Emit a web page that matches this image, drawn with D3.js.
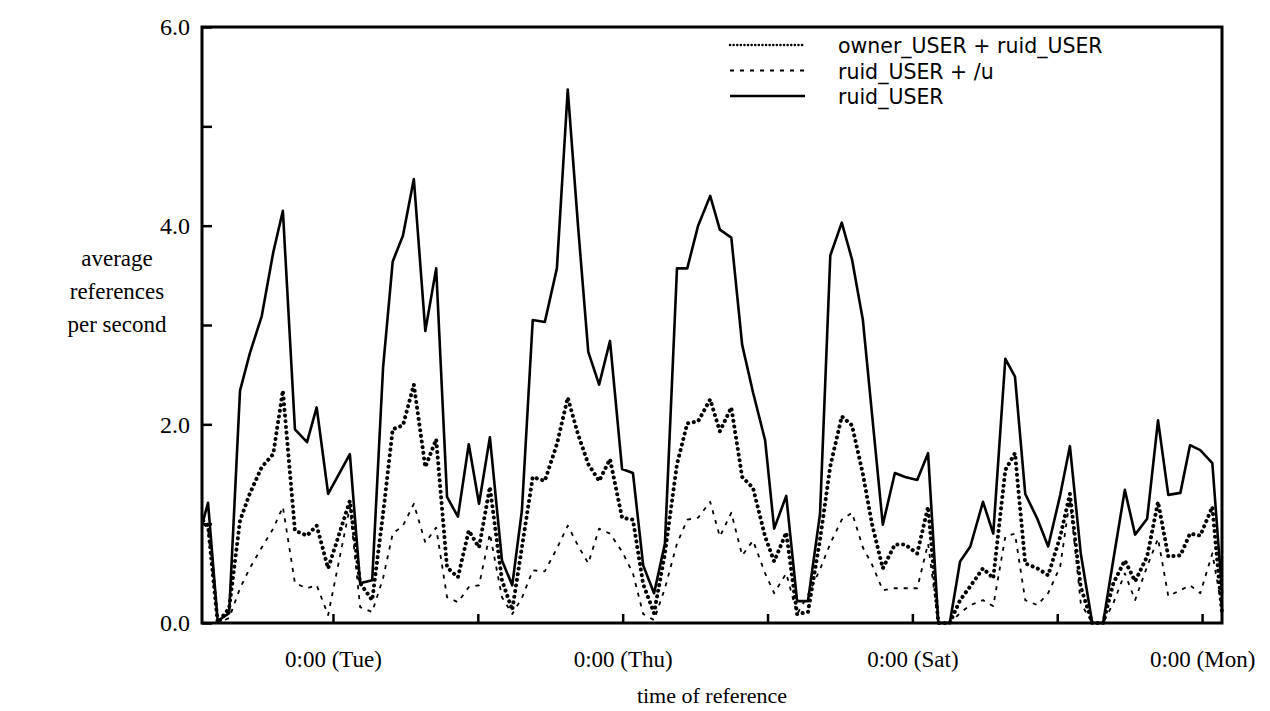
<html>
<head>
<script src="https://d3js.org/d3.v7.min.js"></script>
<style>
  body { margin: 0; background: #fff; }
</style>
</head>
<body>
<script>
// sample times, hours after Monday 0:00
var hours = [2.5, 3.3, 4.9, 6.8, 8.6, 10.2, 12.2, 14.1, 15.7, 17.7, 19.7, 21.3, 23.2, 26.8, 28.5, 30.5,
  32.3, 33.9, 35.6, 37.4, 39.3, 41.1, 42.9, 44.7, 46.5, 48.2, 50.0, 52.0, 53.7, 55.3, 57.1, 59.1,
  61.1, 62.9, 64.6, 66.3, 68.1, 69.9, 71.9, 73.7, 75.4, 77.2, 79.0, 81.0, 82.7, 84.5, 86.5, 88.1,
  90.0, 91.8, 93.6, 95.6, 97.1, 99.1, 100.9, 102.7, 104.7, 106.4, 108.3, 110.0, 111.8, 113.3, 115.1,
  117.1, 118.8, 120.8, 122.6, 124.3, 126.2, 127.9, 129.6, 131.7, 133.4, 135.4, 137.0, 138.7, 140.7,
  142.5, 144.5, 146.1, 147.9, 149.8, 151.6, 153.3, 155.2, 156.9, 158.9, 160.7, 162.4, 164.4, 166.0,
  167.7, 169.7, 171.3]

var ruidUser = [1.03, 1.21, 0.02, 0.1, 2.34, 2.71, 3.09, 3.73, 4.15, 1.95, 1.82, 2.17, 1.30, 1.70, 0.40, 0.43,
  2.57, 3.64, 3.90, 4.47, 2.94, 3.57, 1.27, 1.07, 1.80, 1.20, 1.87, 0.63, 0.38, 1.13, 3.05, 3.03,
  3.57, 5.37, 4.00, 2.73, 2.40, 2.84, 1.55, 1.51, 0.58, 0.30, 0.80, 3.57, 3.57, 4.00, 4.30, 3.96,
  3.88, 2.80, 2.32, 1.84, 0.95, 1.28, 0.22, 0.22, 1.10, 3.70, 4.03, 3.66, 3.05, 2.11, 0.99,
  1.51, 1.47, 1.44, 1.71, 0.0, 0.0, 0.62, 0.77, 1.22, 0.90, 2.66, 2.48, 1.30, 1.05,
  0.77, 1.29, 1.78, 0.70, 0.0, 0.0, 0.64, 1.34, 0.89, 1.05, 2.04, 1.29, 1.31, 1.79,
  1.74, 1.61, 0.30]

var ownerRuid = [1.03, 0.98, 0.0, 0.15, 1.03, 1.30, 1.57, 1.70, 2.34, 0.93, 0.88, 0.98, 0.55, 1.23, 0.40, 0.23,
  1.10, 1.95, 1.99, 2.40, 1.57, 1.85, 0.56, 0.46, 0.93, 0.76, 1.37, 0.43, 0.13, 0.76, 1.47, 1.43,
  1.80, 2.27, 1.90, 1.60, 1.43, 1.65, 1.06, 1.04, 0.39, 0.10, 0.70, 1.60, 2.01, 2.03, 2.25, 1.93,
  2.17, 1.47, 1.36, 0.87, 0.62, 0.91, 0.09, 0.11, 0.84, 1.58, 2.08, 1.99, 1.50, 1.00, 0.55,
  0.79, 0.79, 0.70, 1.17, 0.0, 0.0, 0.23, 0.37, 0.55, 0.45, 1.54, 1.71, 0.60, 0.55,
  0.48, 0.87, 1.30, 0.36, 0.0, 0.0, 0.40, 0.63, 0.42, 0.67, 1.22, 0.67, 0.68, 0.90,
  0.88, 1.17, 0.10]

var ruidU = [1.00, 0.95, 0.0, 0.05, 0.35, 0.55, 0.76, 0.95, 1.17, 0.40, 0.35, 0.38, 0.08, 1.17, 0.16, 0.11,
  0.45, 0.90, 0.98, 1.20, 0.81, 0.96, 0.26, 0.21, 0.36, 0.38, 0.90, 0.26, 0.09, 0.25, 0.53, 0.52,
  0.75, 0.98, 0.78, 0.60, 0.95, 0.90, 0.72, 0.50, 0.09, 0.03, 0.35, 0.80, 1.04, 1.06, 1.22, 0.87,
  1.11, 0.68, 0.83, 0.50, 0.30, 0.50, 0.09, 0.28, 0.54, 0.80, 1.04, 1.11, 0.76, 0.59, 0.33,
  0.35, 0.35, 0.35, 0.80, 0.0, 0.0, 0.10, 0.18, 0.23, 0.17, 0.87, 0.90, 0.23, 0.18,
  0.30, 0.57, 1.25, 0.20, 0.0, 0.0, 0.20, 0.50, 0.23, 0.57, 0.85, 0.27, 0.33, 0.38,
  0.30, 0.70, 0.15]

var seriesNames = ["owner_USER + ruid_USER", "ruid_USER + /u", "ruid_USER"]
var yTicks = [0, 1, 2, 3, 4, 5, 6]
var dayTicks = [24, 48, 72, 96, 120, 144, 168]
var dayLabels = {24: "0:00 (Tue)", 72: "0:00 (Thu)", 120: "0:00 (Sat)", 168: "0:00 (Mon)"}

var width = 1270, height = 711
var margin = {left: 202, top: 27, right: 48, bottom: 88}
var pw = width - margin.left - margin.right
var ph = height - margin.top - margin.bottom

var svg = d3.select("body").append("svg")
  .attr("width", width)
  .attr("height", height)

var x = d3.scaleLinear().domain([2.3, 171.3]).range([0, pw])
var y = d3.scaleLinear().domain([0, 6]).range([ph, 0])

var g = svg.append("g").attr("transform", "translate(" + margin.left + "," + margin.top + ")")

var styles = [
  {data: ownerRuid, w: 4, dash: "0.1 5.6", cap: "round"},
  {data: ruidU, w: 1.8, dash: "4 6", cap: "butt"},
  {data: ruidUser, w: 2.6, dash: null, cap: "butt"}
]

var line = d3.line()
  .x(function(d, i) { return x(hours[i]) })
  .y(function(d) { return y(d) })

g.selectAll("path.series")
  .data(styles)
  .enter().append("path")
    .attr("class", "series")
    .attr("fill", "none")
    .attr("stroke", "#000")
    .attr("stroke-width", function(d) { return d.w })
    .attr("stroke-dasharray", function(d) { return d.dash })
    .attr("stroke-linecap", function(d) { return d.cap })
    .attr("stroke-linejoin", "round")
    .attr("d", function(d) { return line(d.data) })

// y axis
var yAxis = g.append("g")
  .call(d3.axisLeft(y).tickValues(yTicks).tickSize(-10).tickPadding(12)
    .tickFormat(function(d) { return d % 2 === 0 ? d.toFixed(1) : "" }))
yAxis.select(".domain").remove()
yAxis.selectAll("line").attr("stroke-width", 2.5)
yAxis.selectAll("text")
  .attr("font-family", "Liberation Serif")
  .attr("font-size", 24)
  .attr("fill", "#000")

// x axis
var xAxis = g.append("g")
  .attr("transform", "translate(0," + ph + ")")
  .call(d3.axisBottom(x).tickValues(dayTicks).tickSize(-9).tickPadding(28)
    .tickFormat(function(d) { return dayLabels[d] || "" }))
xAxis.select(".domain").remove()
xAxis.selectAll("line").attr("stroke-width", 2.5)
xAxis.selectAll("text")
  .attr("font-family", "Liberation Serif")
  .attr("font-size", 23)
  .attr("fill", "#000")

// frame
g.append("rect")
  .attr("width", pw).attr("height", ph)
  .attr("fill", "none").attr("stroke", "#000").attr("stroke-width", 3)

// axis titles
svg.append("text")
  .attr("x", margin.left + pw / 2).attr("y", 703)
  .attr("text-anchor", "middle")
  .attr("font-family", "Liberation Serif").attr("font-size", 22)
  .text("time of reference")

var ylab = ["average", "references", "per second"]
svg.selectAll("text.ylab")
  .data(ylab)
  .enter().append("text")
    .attr("class", "ylab")
    .attr("x", 117)
    .attr("y", function(d, i) { return 266 + i * 33 })
    .attr("text-anchor", "middle")
    .attr("font-family", "Liberation Serif").attr("font-size", 23)
    .text(function(d) { return d })

// legend
var leg = svg.append("g")
var rows = leg.selectAll("g")
  .data(seriesNames)
  .enter().append("g")
    .attr("transform", function(d, i) { return "translate(0," + (45 + i * 25.5) + ")" })
rows.append("line")
  .attr("x1", 730).attr("x2", 805)
  .attr("stroke", "#000")
  .attr("stroke-width", function(d, i) { return i === 0 ? 2.5 : styles[i].w })
  .attr("stroke-dasharray", function(d, i) { return i === 0 ? "0.1 3.5" : styles[i].dash })
  .attr("stroke-linecap", function(d, i) { return styles[i].cap })
rows.append("text")
  .attr("x", 838).attr("y", 8)
  .attr("font-family", "DejaVu Sans").attr("font-size", 20.5)
  .text(function(d) { return d })
</script>
</body>
</html>
